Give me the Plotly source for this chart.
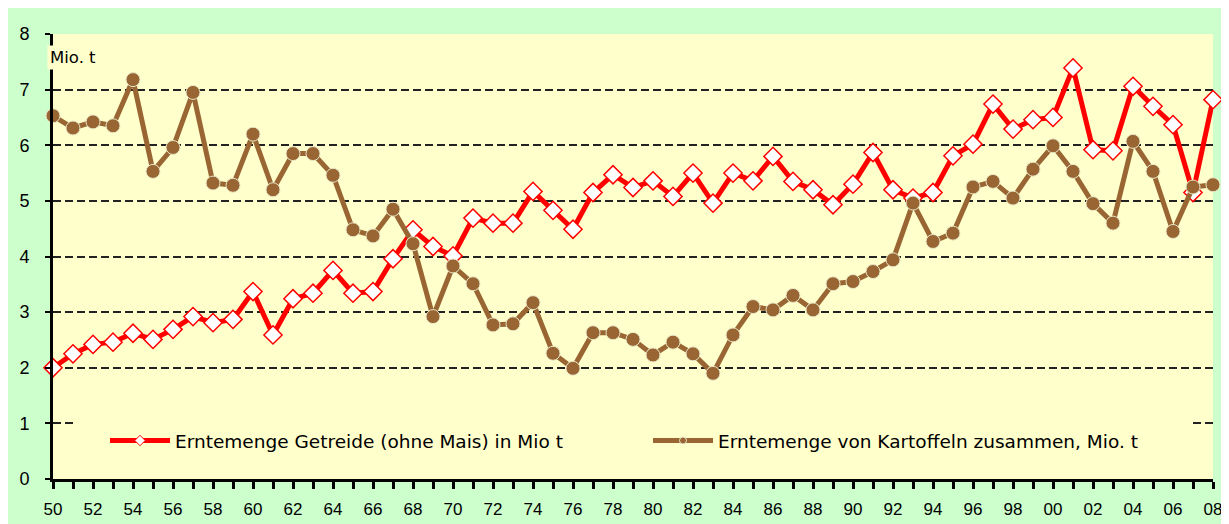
import plotly.graph_objects as go

years = list(range(1950, 2009))
getreide = [2.00, 2.25, 2.42, 2.46, 2.62, 2.51, 2.69, 2.92, 2.81, 2.87,
            3.37, 2.59, 3.24, 3.34, 3.75, 3.34, 3.37, 3.96, 4.48, 4.18,
            4.01, 4.69, 4.60, 4.60, 5.17, 4.83, 4.49, 5.15, 5.47, 5.24,
            5.36, 5.08, 5.50, 4.96, 5.50, 5.36, 5.80, 5.35, 5.20, 4.93,
            5.30, 5.87, 5.20, 5.05, 5.15, 5.81, 6.02, 6.74, 6.29, 6.46,
            6.50, 7.39, 5.92, 5.90, 7.06, 6.70, 6.37, 5.15, 6.82]
kartoffeln = [6.53, 6.31, 6.42, 6.35, 7.18, 5.53, 5.96, 6.95, 5.32, 5.28,
              6.20, 5.20, 5.85, 5.85, 5.46, 4.48, 4.37, 4.85, 4.23, 2.92,
              3.83, 3.51, 2.77, 2.79, 3.17, 2.26, 1.99, 2.63, 2.63, 2.51,
              2.23, 2.46, 2.25, 1.90, 2.59, 3.10, 3.04, 3.30, 3.04, 3.51,
              3.55, 3.73, 3.94, 4.96, 4.27, 4.42, 5.25, 5.35, 5.05, 5.57,
              5.99, 5.53, 4.95, 4.60, 6.07, 5.53, 4.45, 5.25, 5.29]
x_tick_labels = [("%02d" % (y % 100)) if (y % 2 == 0) else "" for y in years]
y_ticks = list(range(0, 9))
name_getreide = "Erntemenge Getreide (ohne Mais) in Mio t"
name_kartoffeln = "Erntemenge von Kartoffeln zusammen, Mio. t"
unit_label = "Mio. t"

RED = "#FF0000"
BROWN = "#996633"
YELLOW = "#FFFFCC"
GREEN = "#CCFFCC"

# page body margin offsets the figure by 8px
OFF = 8
W, H = 1229 - OFF, 524 - OFF
L, R, T, B = 45, 16, 26, 45
PW, PH = W - L - R, H - T - B

def px_x(p):  # screenshot px -> paper
    return (p - OFF - L) / PW

def px_y(p):
    return (H - B - (p - OFF)) / PH

fig = go.Figure()

fig.add_trace(go.Scatter(
    x=years, y=getreide, mode="lines+markers", showlegend=False,
    line=dict(color=RED, width=5),
    marker=dict(symbol="diamond", size=14, color="white",
                line=dict(color=RED, width=1.5)),
    cliponaxis=False))
fig.add_trace(go.Scatter(
    x=years, y=kartoffeln, mode="lines+markers", showlegend=False,
    line=dict(color=BROWN, width=5),
    marker=dict(symbol="circle", size=14, color=BROWN,
                line=dict(color="#E8E8C8", width=1)),
    cliponaxis=False))

# legend entries
fig.add_trace(go.Scatter(
    x=[None], y=[None], mode="lines+markers", name=name_getreide,
    legend="legend",
    line=dict(color=RED, width=5),
    marker=dict(symbol="diamond", size=8, color="white",
                line=dict(color=RED, width=1))))
fig.add_trace(go.Scatter(
    x=[None], y=[None], mode="lines+markers", name=name_kartoffeln,
    legend="legend2",
    line=dict(color=BROWN, width=5),
    marker=dict(symbol="circle", size=7, color=BROWN,
                line=dict(color="#E8E8C8", width=1))))

legend_common = dict(orientation="h", xanchor="left", yanchor="middle",
                     bgcolor="rgba(0,0,0,0)", itemwidth=60,
                     font=dict(family="DejaVu Sans", size=18.5, color="black"))

fig.update_layout(
    width=W, height=H,
    margin=dict(l=L, r=R, t=T, b=B, pad=0, autoexpand=False),
    paper_bgcolor=GREEN, plot_bgcolor=YELLOW,
    font=dict(family="Liberation Sans, Arial", size=17, color="black"),
    legend=dict(x=px_x(105), y=px_y(441), **legend_common),
    legend2=dict(x=px_x(648), y=px_y(441), **legend_common),
    shapes=[
        dict(type="rect", xref="paper", yref="paper",
             x0=px_x(73), x1=px_x(1193), y0=px_y(462), y1=px_y(416),
             fillcolor=YELLOW, line_width=0, layer="above"),
    ],
    annotations=[
        dict(text=unit_label, xref="paper", yref="paper",
             x=px_x(47), y=px_y(57.5), xanchor="left", yanchor="middle",
             showarrow=False, bgcolor=YELLOW, borderpad=2,
             font=dict(family="DejaVu Sans", size=16.5, color="black")),
    ],
)

fig.update_xaxes(
    range=[1950, 2008], tickmode="array", tickvals=years,
    ticktext=x_tick_labels, ticks="outside", ticklen=7, tickwidth=2.5,
    tickcolor="black", showline=True, linecolor="black", linewidth=3,
    showgrid=False, zeroline=False, ticklabelstandoff=6, automargin=False,
    tickfont=dict(family="Liberation Sans, Arial", size=17))
fig.update_yaxes(
    range=[0, 8], tickmode="array", tickvals=y_ticks,
    ticks="outside", ticklen=5, tickwidth=2, tickcolor="black",
    showline=True, linecolor="black", linewidth=3,
    showgrid=True, gridcolor="#222222", gridwidth=1.5, griddash="8px,4px",
    zeroline=False, ticklabelstandoff=12, automargin=False,
    tickfont=dict(family="Liberation Sans, Arial", size=18))

fig.write_html("out.html")
